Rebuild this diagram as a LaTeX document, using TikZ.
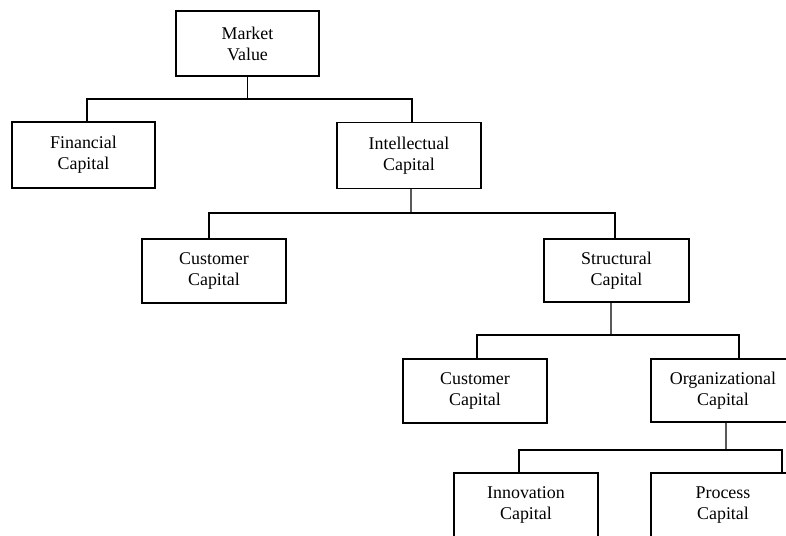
\documentclass[tikz,border=0pt]{standalone}
\usepackage{fontspec}
\setmainfont{Liberation Serif}
\begin{document}
\begin{tikzpicture}[x=1bp,y=-1bp,
  capbox/.style={draw, line width=1.4bp, minimum width=144bp, minimum height=65bp,
    inner sep=0pt, align=center, font=\fontsize{18}{21}\selectfont},
  link/.style={line width=1.4bp}]
\useasboundingbox (0,0) rectangle (786,536);
\clip (0,0) rectangle (786,536);
\fill[white] (0,0) rectangle (786,536);

% boxes
\node[capbox, minimum width=143bp] (mv)  at (247.5,43.5) {Market\\Value};
\node[capbox, minimum width=143bp, minimum height=66bp] (fc) at (83.5,155) {Financial\\Capital};
\node[capbox, minimum height=66bp] (ic)  at (409,155.5) {Intellectual\\Capital};
\node[capbox, minimum height=64bp] (cc)  at (214,271)   {Customer\\Capital};
\node[capbox, minimum width=145bp, minimum height=63bp] (sc) at (616.5,270.5) {Structural\\Capital};
\node[capbox, minimum height=64bp] (cc2) at (475,391)   {Customer\\Capital};
\node[capbox, minimum height=63bp] (oc)  at (723,390.5) {Organizational\\Capital};
\node[capbox, minimum height=64bp] (inn) at (526,505)   {Innovation\\Capital};
\node[capbox, minimum height=64bp] (pc)  at (723,505)   {Process\\Capital};

% bus points of the tree
\coordinate (b1) at (247.5,99);
\coordinate (b2) at (411,213);
\coordinate (b3) at (611,335);
\coordinate (b4) at (726,450);

% connectors
\draw[link] (mv.south) -- (b1);
\draw[link] ([xshift=3.5bp]fc.north) |- (b1) -| ([xshift=3bp]ic.north);

\draw[link] ([xshift=2bp]ic.south) -- (b2);
\draw[link] ([xshift=-5bp]cc.north) |- (b2) -| ([xshift=-1.5bp]sc.north);

\draw[link] ([xshift=-5.5bp]sc.south) -- (b3);
\draw[link] ([xshift=2bp]cc2.north) |- (b3) -| ([xshift=16bp]oc.north);

\draw[link] ([xshift=3bp]oc.south) -- (b4);
\draw[link] ([xshift=-7bp]inn.north) |- (b4) -| ([xshift=59bp]pc.north);
\end{tikzpicture}
\end{document}
